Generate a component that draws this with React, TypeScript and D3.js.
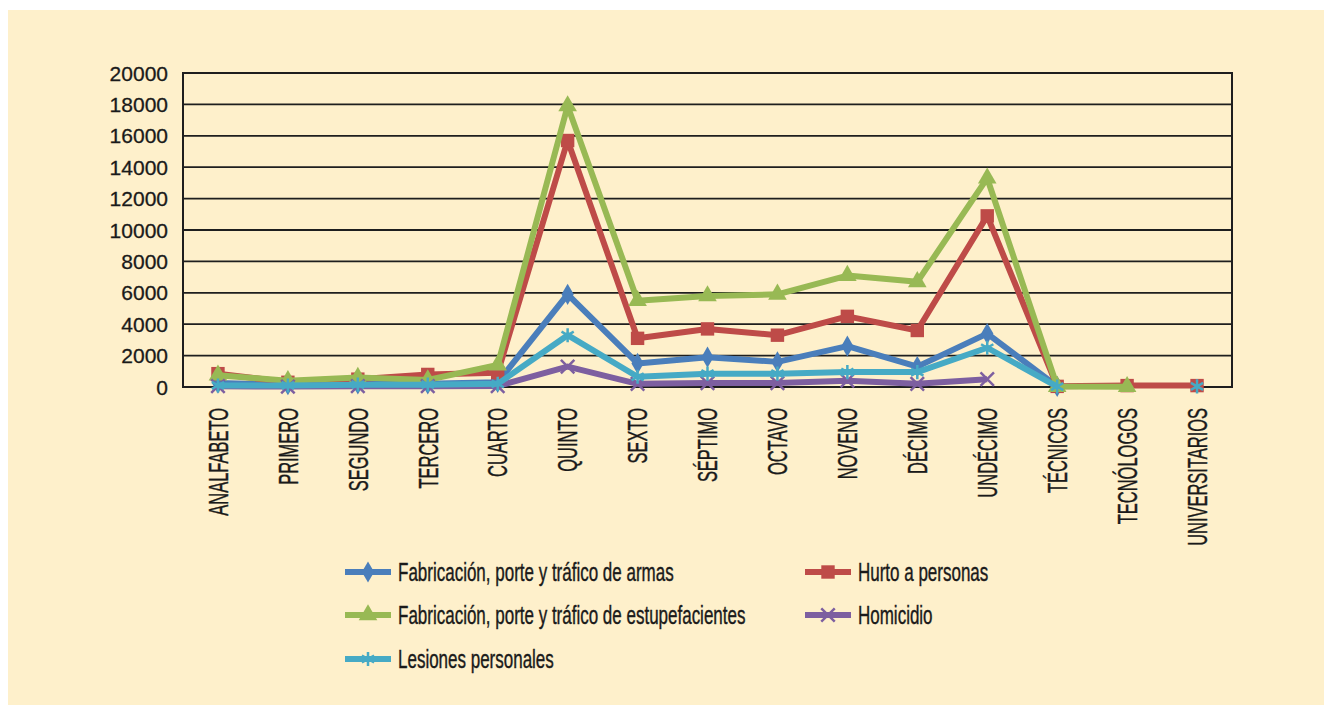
import React, { useEffect, useRef } from "react";
import * as d3 from "d3";

// niveles educativos (eje x)
const categories = [
  "ANALFABETO", "PRIMERO", "SEGUNDO", "TERCERO", "CUARTO", "QUINTO", "SEXTO",
  "SÉPTIMO", "OCTAVO", "NOVENO", "DÉCIMO", "UNDÉCIMO", "TÉCNICOS", "TECNÓLOGOS",
  "UNIVERSITARIOS",
];

const yTicks = [0, 2000, 4000, 6000, 8000, 10000, 12000, 14000, 16000, 18000, 20000];

const armas = [250, 150, 200, 200, 300, 5900, 1500, 1900, 1600, 2600, 1300, 3400, 40, null, null];
const hurto = [850, 300, 500, 800, 900, 15700, 3100, 3700, 3300, 4500, 3600, 10900, 40, 90, 90];
const estupefacientes = [750, 400, 600, 450, 1400, 17900, 5500, 5800, 5900, 7100, 6700, 13300, 30, 20, null];
const homicidio = [50, 30, 50, 50, 60, 1300, 200, 250, 250, 400, 200, 500, null, null, null];
const lesiones = [100, 100, 150, 150, 200, 3300, 650, 850, 850, 950, 950, 2500, 30, null, 40];

const seriesNames = [
  "Fabricación, porte y tráfico de armas",
  "Hurto a personas",
  "Fabricación, porte y tráfico de estupefacientes",
  "Homicidio",
  "Lesiones personales",
];

export default function App() {
  const ref = useRef<SVGSVGElement>(null);

  useEffect(() => {
    const svg = d3.select(ref.current);
    svg.selectAll("*").remove();

    const W = 1324, H = 705;
    const left = 183, right = 1232, top = 73, bottom = 387;
    const font = "'Liberation Sans', Arial, sans-serif";
    const ink = "#1a1a1a";

    svg.append("rect").attr("width", W).attr("height", H).attr("fill", "#ffffff");
    svg.append("rect").attr("x", 8).attr("y", 10).attr("width", W - 8).attr("height", H - 10).attr("fill", "#fef0cb");

    const x = d3.scaleBand<string>().domain(categories).range([left, right]);
    const y = d3.scaleLinear().domain([0, 20000]).range([bottom, top]);
    const cx = (c: string) => (x(c) as number) + x.bandwidth() / 2;

    // grid
    svg.append("g")
      .selectAll("line")
      .data(yTicks)
      .enter()
      .append("line")
      .attr("x1", left)
      .attr("x2", right)
      .attr("y1", (d) => y(d))
      .attr("y2", (d) => y(d))
      .attr("stroke", "#1e1e1e")
      .attr("stroke-width", 1.8);

    svg.append("rect")
      .attr("x", left).attr("y", top)
      .attr("width", right - left).attr("height", bottom - top)
      .attr("fill", "none").attr("stroke", "#1e1e1e").attr("stroke-width", 2);

    // y labels
    svg.append("g")
      .selectAll("text")
      .data(yTicks)
      .enter()
      .append("text")
      .attr("x", 168)
      .attr("y", (d) => y(d))
      .attr("dy", "0.36em")
      .attr("text-anchor", "end")
      .attr("font-family", font)
      .attr("font-size", 21)
      .attr("fill", ink)
      .attr("stroke", ink)
      .attr("stroke-width", 0.3)
      .text((d) => String(d));

    // x labels
    svg.append("g")
      .selectAll("text")
      .data(categories)
      .enter()
      .append("text")
      .attr("transform", (d) => `translate(${cx(d)},408) rotate(-90) scale(0.61,1)`)
      .attr("dy", "0.36em")
      .attr("text-anchor", "end")
      .attr("font-family", font)
      .attr("font-size", 27)
      .attr("fill", ink)
      .attr("stroke", ink)
      .attr("stroke-width", 0.4)
      .text((d) => d);

    const series = [
      { name: seriesNames[0], values: armas, color: "#4a7ebb", symbol: d3.symbolDiamond, size: 130, stroke: false },
      { name: seriesNames[1], values: hurto, color: "#be4b48", symbol: d3.symbolSquare, size: 180, stroke: false },
      { name: seriesNames[2], values: estupefacientes, color: "#98b954", symbol: d3.symbolTriangle, size: 150, stroke: false },
      { name: seriesNames[3], values: homicidio, color: "#7d5fa0", symbol: d3.symbolTimes, size: 120, stroke: true },
      { name: seriesNames[4], values: lesiones, color: "#46aac5", symbol: d3.symbolAsterisk, size: 140, stroke: true },
    ];

    const line = d3.line<number | null>()
      .defined((d) => d != null)
      .x((_, i) => cx(categories[i]))
      .y((d) => y(d as number));

    const drawMarker = (g: any, s: any, px: number, py: number) => {
      const p = g.append("path")
        .attr("d", d3.symbol().type(s.symbol).size(s.size)())
        .attr("transform", `translate(${px},${py})`);
      if (s.stroke) p.attr("fill", "none").attr("stroke", s.color).attr("stroke-width", 2.5);
      else p.attr("fill", s.color);
    };

    series.forEach((s) => {
      const g = svg.append("g");
      g.append("path")
        .datum(s.values)
        .attr("d", line as any)
        .attr("fill", "none")
        .attr("stroke", s.color)
        .attr("stroke-width", 6)
        .attr("stroke-linejoin", "round");
      s.values.forEach((v, i) => {
        if (v == null) return;
        drawMarker(g, s, cx(categories[i]), y(v));
      });
    });

    // legend
    const legendPos = [
      [345, 572], [805, 572], [345, 615], [805, 615], [345, 659],
    ];
    series.forEach((s, i) => {
      const [lx, ly] = legendPos[i];
      const g = svg.append("g");
      g.append("line")
        .attr("x1", lx).attr("x2", lx + 46)
        .attr("y1", ly).attr("y2", ly)
        .attr("stroke", s.color).attr("stroke-width", 6);
      drawMarker(g, s, lx + 23, ly);
      g.append("text")
        .attr("transform", `translate(${lx + 53},${ly}) scale(0.68,1)`)
        .attr("dy", "0.36em")
        .attr("font-family", font)
        .attr("font-size", 25)
        .attr("fill", ink)
        .attr("stroke", ink)
        .attr("stroke-width", 0.4)
        .text(s.name);
    });
  }, []);

  return (
    <svg
      ref={ref}
      width={1324}
      height={705}
      style={{ position: "absolute", left: 0, top: 0, display: "block" }}
    ></svg>
  );
}
